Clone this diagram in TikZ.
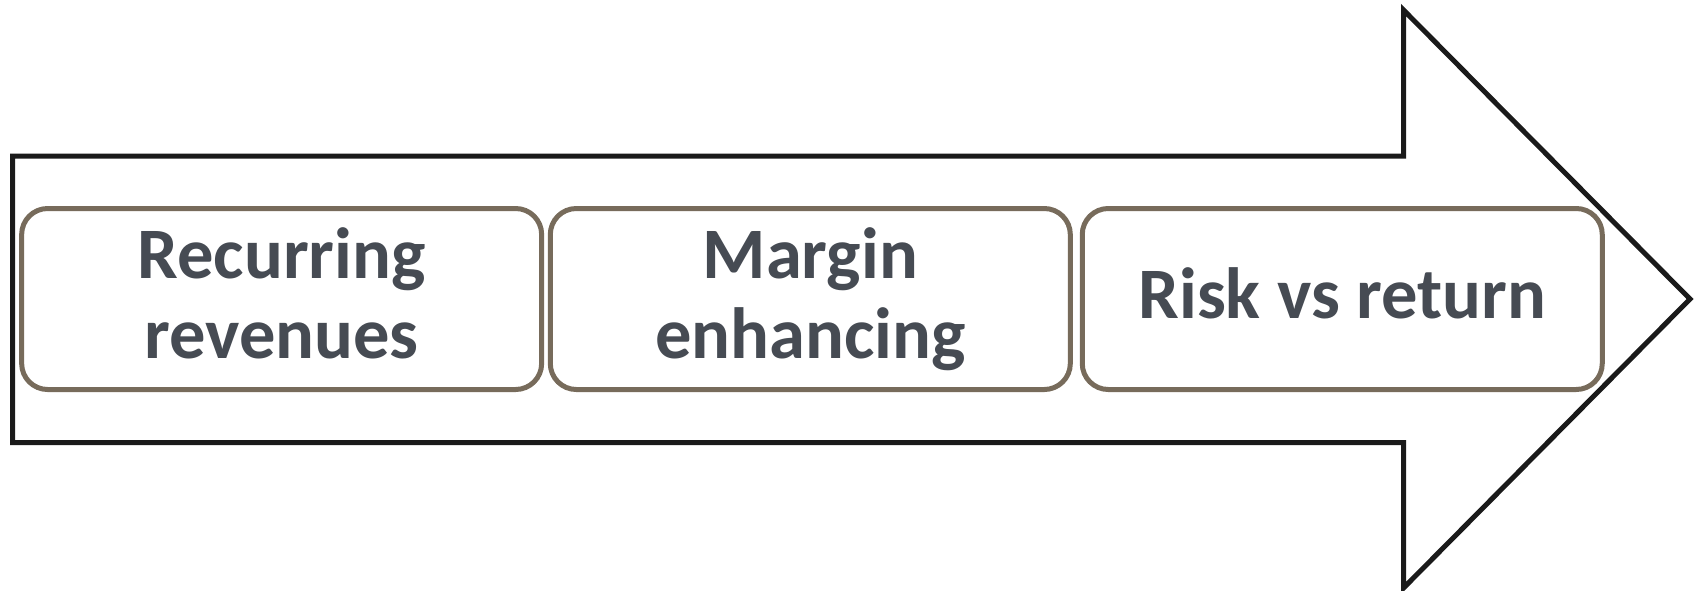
\documentclass[tikz,border=0pt]{standalone}
\usepackage{fontspec}
\setmainfont{Carlito}
\definecolor{boxcol}{HTML}{776B5B}
\definecolor{txtcol}{HTML}{464B53}
\definecolor{arrcol}{HTML}{1A1A1A}
\begin{document}
\begin{tikzpicture}[x=1pt,y=-1pt,
  stage/.style={draw=boxcol, line width=5pt, rounded corners=26pt, minimum width=520pt, minimum height=181pt, inner sep=0pt, align=center, text=txtcol, font=\fontsize{72.5}{80}\selectfont\bfseries, execute at end node={\rule[-11pt]{0pt}{0pt}}},
  bigarrow/.style={draw=arrcol, line width=5pt, line join=miter}]
\useasboundingbox (0,0) rectangle (1696,590);
\draw[bigarrow] (12.5,156) coordinate (a1) -- (1403.5,156) coordinate (a2) -- (1403.5,10) coordinate (a3) -- (1690,299) coordinate (tip) -- (1403.5,588) coordinate (a5) -- (1403.5,442.5) coordinate (a6) -- (12.5,442.5) coordinate (a7) -- cycle;
\node[stage] (s1) at (281.65,299) {Recurring\\revenues};
\node[stage] (s2) at (810.3,299) {Margin\\enhancing};
\node[stage] (s3) at (1342.25,299) {Risk vs return};
\end{tikzpicture}
\end{document}
